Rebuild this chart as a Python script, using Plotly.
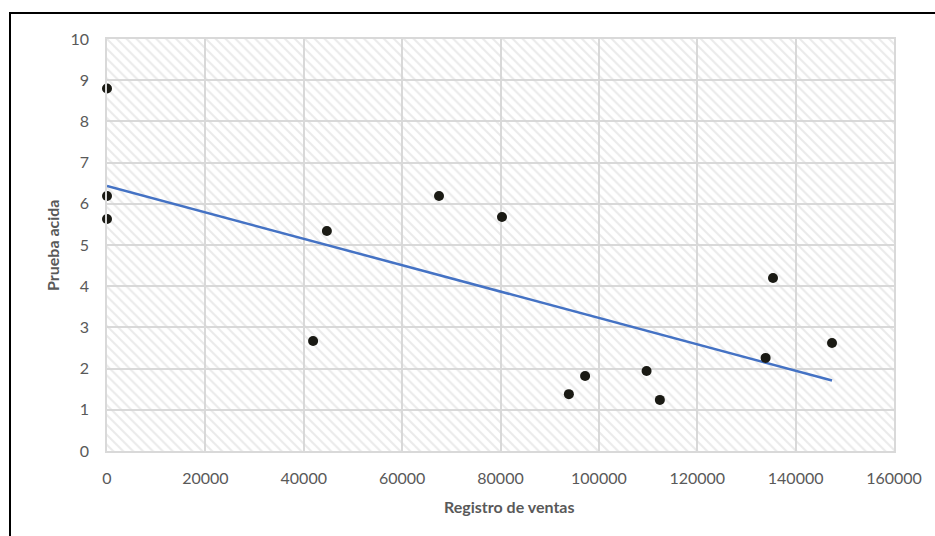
import numpy as np
import plotly.graph_objects as go

# Data
registro_ventas = [0, 0, 0, 44700, 41900, 67500, 80300, 93900, 97200, 109700, 112400, 133900, 135400, 147400]
prueba_acida = [8.80, 6.19, 5.63, 5.34, 2.67, 6.19, 5.68, 1.38, 1.82, 1.94, 1.24, 2.26, 4.20, 2.62]

x_range = [0, 160000]
y_range = [0, 10]
x_ticks = [0, 20000, 40000, 60000, 80000, 100000, 120000, 140000, 160000]
y_ticks = list(range(0, 11))

x_title = "Registro de ventas"
y_title = "Prueba acida"

# Linear trendline (least squares), as Excel draws it
slope, intercept = np.polyfit(registro_ventas, prueba_acida, 1)
trend_x = [min(registro_ventas), max(registro_ventas)]
trend_y = [slope * v + intercept for v in trend_x]

FONT = "Lato, 'Open Sans', sans-serif"
GRID = "#d9d9d9"
TEXT = "#595959"

fig = go.Figure()

# Hatched plot-area background
fig.add_trace(go.Scatter(
    x=[x_range[0], x_range[1], x_range[1], x_range[0], x_range[0]],
    y=[y_range[0], y_range[0], y_range[1], y_range[1], y_range[0]],
    mode="none", fill="toself", fillcolor="rgba(0,0,0,0)",
    fillpattern=dict(shape="\\", fgcolor="#d6d6d6", bgcolor="rgba(0,0,0,0)",
                     size=7, solidity=0.3),
    hoverinfo="skip", showlegend=False,
))

fig.add_trace(go.Scatter(
    x=trend_x, y=trend_y, mode="lines",
    line=dict(color="#4472C4", width=2.5),
    showlegend=False, hoverinfo="skip", cliponaxis=False,
))

fig.add_trace(go.Scatter(
    x=registro_ventas, y=prueba_acida, mode="markers",
    marker=dict(color="#1a1a14", size=10, line=dict(width=0)),
    showlegend=False, cliponaxis=False,
))

W, H = 935, 536
L, R, T, B = 107, 41, 39, 85
pw, ph = W - L - R, H - T - B

def px_x(p):
    return (p - L) / pw

def px_y(p):
    return (T + ph - p) / ph

# Outer chart border (extends beyond the visible window on right/bottom)
fig.add_shape(
    type="rect", xref="paper", yref="paper",
    x0=px_x(10), x1=px_x(W + 20),
    y0=px_y(H + 20), y1=px_y(13),
    line=dict(color="#000000", width=2), fillcolor="rgba(0,0,0,0)",
    layer="below",
)

fig.add_annotation(
    text="<b>" + x_title + "</b>", xref="paper", yref="paper",
    x=px_x(509), y=px_y(506), xanchor="center", yanchor="middle",
    showarrow=False, font=dict(family=FONT, size=16, color=TEXT),
)
fig.add_annotation(
    text="<b>" + y_title + "</b>", xref="paper", yref="paper",
    x=px_x(52), y=px_y(245), xanchor="center", yanchor="middle",
    textangle=-90, showarrow=False, font=dict(family=FONT, size=16, color=TEXT),
)

fig.update_layout(
    width=W, height=H,
    margin=dict(l=L, r=R, t=T, b=B),
    paper_bgcolor="white", plot_bgcolor="white",
    font=dict(family=FONT, size=16, color=TEXT),
    xaxis=dict(
        range=x_range, tickvals=x_ticks, ticktext=[str(v) for v in x_ticks],
        showgrid=True, gridcolor=GRID, gridwidth=1.5, zeroline=False,
        showline=True, linecolor=GRID, linewidth=1.5, mirror=True,
        ticks="", ticklabelstandoff=12,
    ),
    yaxis=dict(
        range=y_range, tickvals=y_ticks, ticktext=[str(v) for v in y_ticks],
        showgrid=True, gridcolor=GRID, gridwidth=1.5, zeroline=False,
        showline=True, linecolor=GRID, linewidth=1.5, mirror=True,
        ticks="", ticklabelstandoff=13,
    ),
)

fig.write_html("out.html")
